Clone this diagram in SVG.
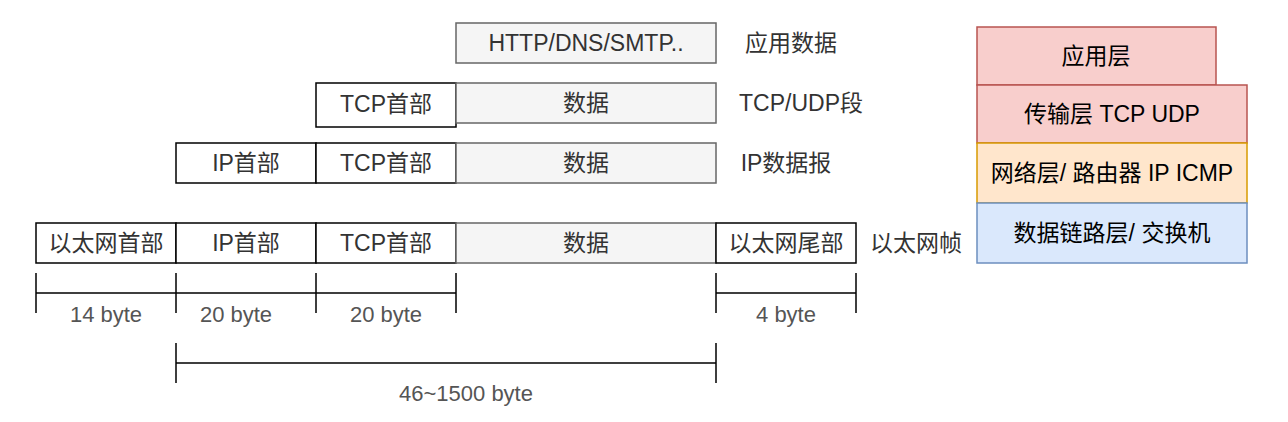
<svg xmlns="http://www.w3.org/2000/svg" width="1288" height="422" viewBox="0 0 1288 422">
<style>
text{font-family:"Liberation Sans","Noto Sans CJK SC",sans-serif;font-size:23px;text-anchor:middle;dominant-baseline:central}
.hdr{fill:#ffffff;stroke:#000;stroke-width:1.5}
.dat{fill:#f5f5f5;stroke:#666;stroke-width:1.5}
.t{fill:#333}
.lab{fill:#333}
.dim{fill:#555;font-size:22px}
.dl{stroke:#000;stroke-width:1.5;fill:none}
.app{fill:#f8cecc;stroke:#b85450;stroke-width:1.5}
.net{fill:#ffe6cc;stroke:#d79b00;stroke-width:1.5}
.lnk{fill:#dae8fc;stroke:#6c8ebf;stroke-width:1.5}
.st{fill:#000}
</style>
<rect width="1288" height="422" fill="#fff"/>
<g id="row1">
<rect class="dat" x="456" y="23" width="260" height="40"/>
<text class="t" x="586" y="43">HTTP/DNS/SMTP..</text>
</g>
<g id="row2">
<rect class="hdr" x="316" y="83" width="140" height="44"/>
<text class="t" x="386" y="104">TCP首部</text>
<rect class="dat" x="456" y="83" width="260" height="40"/>
<text class="t" x="586" y="103">数据</text>
</g>
<g id="row3">
<rect class="hdr" x="176" y="143" width="140" height="40"/>
<text class="t" x="246" y="163">IP首部</text>
<rect class="hdr" x="316" y="143" width="140" height="40"/>
<text class="t" x="386" y="163">TCP首部</text>
<rect class="dat" x="456" y="143" width="260" height="40"/>
<text class="t" x="586" y="163">数据</text>
</g>
<g id="row4">
<rect class="hdr" x="36" y="223" width="140" height="40"/>
<text class="t" x="106" y="243">以太网首部</text>
<rect class="hdr" x="176" y="223" width="140" height="40"/>
<text class="t" x="246" y="243">IP首部</text>
<rect class="hdr" x="316" y="223" width="140" height="40"/>
<text class="t" x="386" y="243">TCP首部</text>
<rect class="dat" x="456" y="223" width="260" height="40"/>
<text class="t" x="586" y="243">数据</text>
<rect class="hdr" x="716" y="223" width="140" height="40"/>
<text class="t" x="786" y="243">以太网尾部</text>
</g>
<g id="labels">
<text class="lab" x="791" y="43">应用数据</text>
<text class="lab" x="801" y="103">TCP/UDP段</text>
<text class="lab" x="786" y="163">IP数据报</text>
<text class="lab" x="916" y="243">以太网帧</text>
</g>
<g id="connectors">
<path class="dl" d="M36 273V313M176 273V313M316 273V313M456 273V313M36 293H456"/>
<path class="dl" d="M716 273V313M856 273V313M716 293H856"/>
<path class="dl" d="M176 343V383M716 343V383M176 363H716"/>
</g>
<g id="dims">
<text class="dim" x="106" y="314">14 byte</text>
<text class="dim" x="236" y="314">20 byte</text>
<text class="dim" x="386" y="314">20 byte</text>
<text class="dim" x="786" y="314">4 byte</text>
<text class="dim" x="466" y="393">46~1500 byte</text>
</g>
<g id="stack">
<g id="app"><rect class="app" x="977" y="27" width="239" height="58"/><text class="st" x="1096" y="56">应用层</text></g>
<g id="trans"><rect class="app" x="977" y="85" width="270" height="58"/><text class="st" x="1112" y="114">传输层 TCP UDP</text></g>
<g id="netl"><rect class="net" x="977" y="143" width="270" height="60"/><text class="st" x="1112" y="173">网络层/ 路由器 IP ICMP</text></g>
<g id="link"><rect class="lnk" x="977" y="203" width="270" height="60"/><text class="st" x="1112" y="233">数据链路层/ 交换机</text></g>
</g>
</svg>
